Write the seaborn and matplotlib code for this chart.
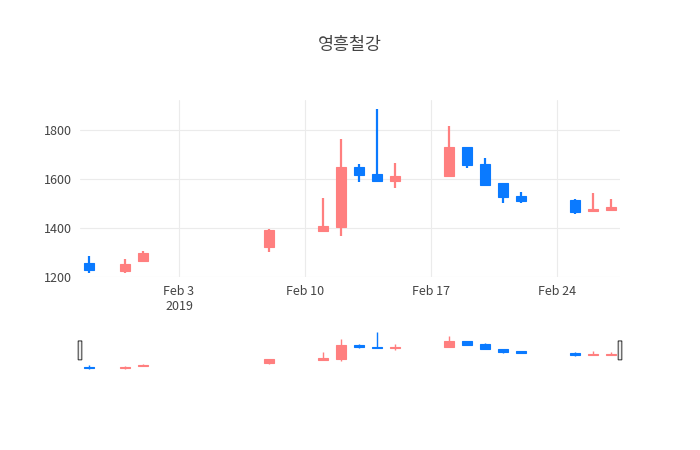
import numpy as np
import pandas as pd
import seaborn as sns
import matplotlib.pyplot as plt
import matplotlib.dates as mdates
from matplotlib.patches import FancyBboxPatch

dates = pd.to_datetime([
    "2019-01-29", "2019-01-31", "2019-02-01", "2019-02-08", "2019-02-11",
    "2019-02-12", "2019-02-13", "2019-02-14", "2019-02-15", "2019-02-18",
    "2019-02-19", "2019-02-20", "2019-02-21", "2019-02-22", "2019-02-25",
    "2019-02-26", "2019-02-27"])
opens = [1259, 1226, 1266, 1323, 1386, 1403, 1649, 1619, 1590, 1611,
         1729, 1660, 1582, 1532, 1513, 1470, 1474]
highs = [1286, 1273, 1307, 1396, 1522, 1762, 1660, 1885, 1663, 1816,
         1729, 1687, 1582, 1548, 1517, 1543, 1518]
lows = [1215, 1218, 1263, 1300, 1386, 1368, 1588, 1592, 1564, 1611,
        1644, 1577, 1501, 1501, 1456, 1470, 1474]
closes = [1227, 1251, 1296, 1392, 1410, 1649, 1615, 1592, 1614, 1729,
          1656, 1577, 1528, 1508, 1467, 1478, 1487]

df = pd.DataFrame({"date": dates, "open": opens, "high": highs,
                   "low": lows, "close": closes})

UP = "#ff7f7f"
DOWN = "#0a7aff"

sns.set_theme(style="whitegrid")
plt.rcParams['font.family'] = ['Noto Sans CJK KR', 'DejaVu Sans']

fig = plt.figure(figsize=(7, 4.5), dpi=100)
ax = fig.add_axes([80/700, 1-277/450, 540/700, 177/450])
sl = fig.add_axes([80/700, 1-375/450, 540/700, 45/450])


def candles(a, wick_lw, body_w):
    x = mdates.date2num(df["date"])
    colors = [UP if c >= o else DOWN for o, c in zip(df["open"], df["close"])]
    a.vlines(x, df["low"], df["high"], colors=colors, lw=wick_lw, zorder=2)
    bottoms = np.minimum(df["open"], df["close"])
    heights = np.maximum(np.abs(df["close"] - df["open"]), 4)
    a.bar(x, heights, bottom=bottoms, width=body_w, color=colors,
          edgecolor=colors, linewidth=0.8, zorder=3)


candles(ax, 1.6, 0.55)
candles(sl, 1.0, 0.55)

xmin = mdates.date2num(pd.Timestamp("2019-01-28 12:00"))
xmax = mdates.date2num(pd.Timestamp("2019-02-27 12:00"))
for a in (ax, sl):
    a.set_xlim(xmin, xmax)
    for s in a.spines.values():
        s.set_visible(False)

ax.set_ylim(1200, 1922)
ax.set_yticks([1200, 1400, 1600, 1800])
ticks = pd.to_datetime(["2019-02-03", "2019-02-10", "2019-02-17", "2019-02-24"])
ax.set_xticks(mdates.date2num(ticks))
ax.set_xticklabels(["Feb 3\n2019", "Feb 10", "Feb 17", "Feb 24"])
ax.grid(True, color="#ebebeb", lw=0.8)
ax.tick_params(axis="both", labelsize=9, colors="#444444", length=0, pad=6)
ax.set_facecolor("white")

sl.set_ylim(1106, 1921)
sl.set_xticks([])
sl.set_yticks([])
sl.grid(False)
for xh in (xmin, xmax):
    sl.add_patch(FancyBboxPatch((xh - 0.08, 1381), 0.16, 342,
                                boxstyle="round,pad=0.02", fc="#eeeeee",
                                ec="#444444", lw=0.8, clip_on=False, zorder=5))

fig.text(0.5, 1 - 45/450, "영흥철강", ha="center", va="center",
         fontsize=12.5, color="#444444")

fig.savefig("out.png", dpi=100)
